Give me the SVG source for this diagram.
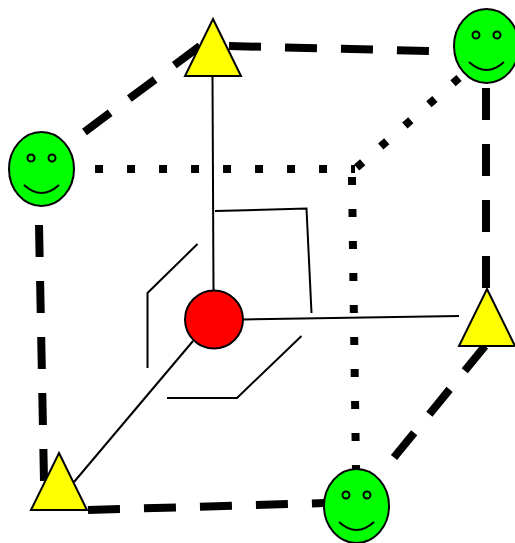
<svg xmlns="http://www.w3.org/2000/svg" width="515" height="543" viewBox="0 0 515 543">
<style>
.thin{fill:none;stroke:#000;stroke-width:2}
.dash{fill:none;stroke:#000;stroke-width:8;stroke-dasharray:32 24}
.dot{fill:none;stroke:#000;stroke-width:8;stroke-dasharray:8 24}
.tri{fill:#ff0;stroke:#000;stroke-width:2}
.face{fill:#0f0;stroke:#000;stroke-width:2}
.eye{fill:none;stroke:#000;stroke-width:2}
.sm{fill:none;stroke:#000;stroke-width:2}
</style>
<rect width="515" height="543" fill="#fff"/>
<g id="connectors">
<path class="thin" d="M212.500 76L213.500 291"/>
<path class="thin" d="M243 319.500L459 316"/>
<path class="thin" d="M193 341L74 482"/>
<path class="thin" d="M215 211L306.500 208.500L311.500 313"/>
<path class="thin" d="M197.500 244L147.500 293V368"/>
<path class="thin" d="M301.500 336L237 398H167"/>
<path class="dash" d="M200 46L83 133"/>
<path class="dash" d="M229 46L430 51"/>
<path class="dash" d="M486 88V290"/>
<path class="dash" d="M485 346L392 460"/>
<path class="dash" d="M39 225L44 481"/>
<path class="dash" d="M88 510L325 503"/>
<path class="dot" d="M95 169H355"/>
<path class="dot" d="M459 78L355 169"/>
<path class="dot" d="M352 177L356 470"/>
</g>
<g id="n-center"><circle cx="214" cy="319.500" r="29" fill="#f00" stroke="#000" stroke-width="2"/></g>
<g id="n-tri-top"><path class="tri" d="M213 19L241 76H185Z"/></g>
<g id="n-tri-right"><path class="tri" d="M487 289L515 346H459Z"/></g>
<g id="n-tri-bottom"><path class="tri" d="M59 453L87 510H31Z"/></g>
<g id="n-face-left">
<ellipse class="face" cx="41.500" cy="169" rx="32.500" ry="37"/>
<circle class="eye" cx="31" cy="158" r="3.500"/><circle class="eye" cx="52" cy="158" r="3.500"/>
<path class="sm" d="M24 185Q41.500 201 59 185"/>
</g>
<g id="n-face-top">
<ellipse class="face" cx="486.500" cy="46" rx="32.500" ry="37"/>
<circle class="eye" cx="476" cy="35" r="3.500"/><circle class="eye" cx="497" cy="35" r="3.500"/>
<path class="sm" d="M469 62Q486.500 78 504 62"/>
</g>
<g id="n-face-bottom">
<ellipse class="face" cx="356.500" cy="506" rx="32.500" ry="37"/>
<circle class="eye" cx="346" cy="495" r="3.500"/><circle class="eye" cx="367" cy="495" r="3.500"/>
<path class="sm" d="M339 522Q356.500 538 374 522"/>
</g>
</svg>
